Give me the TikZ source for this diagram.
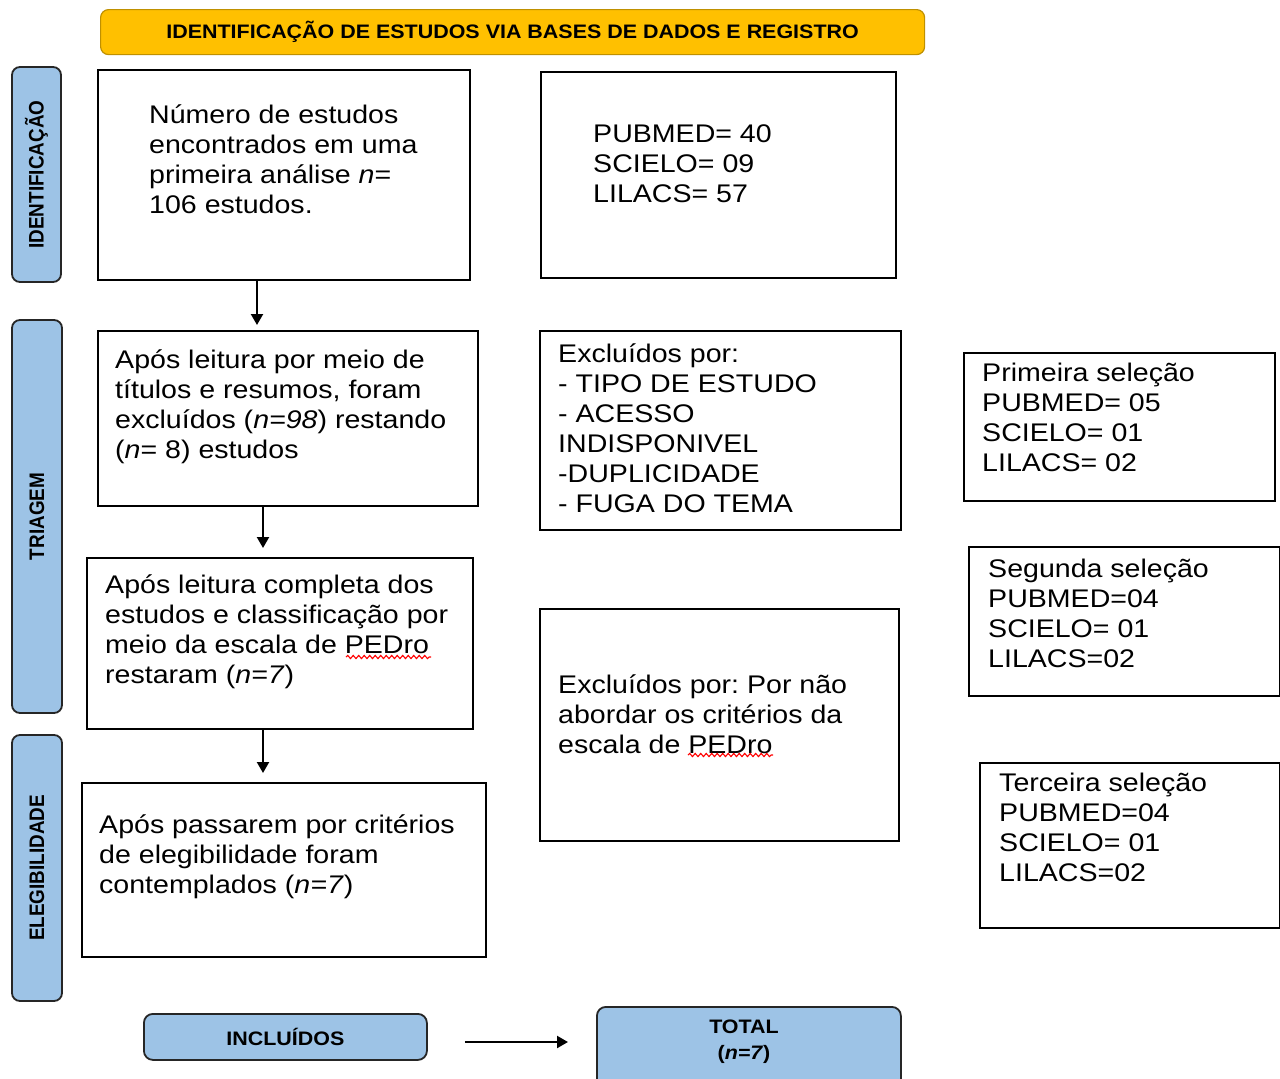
\documentclass[tikz,border=0pt]{standalone}
\usepackage{fontspec}
\setmainfont{Liberation Sans}
\newfontfamily\bodyfont{Liberation Sans}[FakeStretch=1.12]
\newfontfamily\headfont{Liberation Sans}[FakeStretch=1.1]
\newfontfamily\sidefont{Liberation Sans}[FakeStretch=0.9]
\usetikzlibrary{arrows.meta,decorations.pathmorphing}
\frenchspacing
\definecolor{bannerfill}{HTML}{FFC000}
\definecolor{bannerline}{HTML}{BF9000}
\definecolor{labelfill}{HTML}{9DC3E6}
\definecolor{labelline}{HTML}{262626}
\newcommand{\txtlines}[1]{\begin{tabular}[t]{@{}l@{}}#1\end{tabular}}
\newcommand{\ctrlines}[1]{\begin{tabular}[t]{@{}c@{}}#1\end{tabular}}
\tikzset{
  box/.style={draw=black, line width=2.2pt, fill=white, rectangle, inner sep=0pt, anchor=north west},
  banner/.style={draw=bannerline, line width=1.2pt, fill=bannerfill, rounded corners=8pt, inner sep=0pt, anchor=north west,
    font=\headfont\bfseries\fontsize{19.5}{23}\selectfont},
  sidelab/.style={draw=labelline, line width=1.8pt, fill=labelfill, rounded corners=8pt, inner sep=0pt, rotate=90,
    font=\sidefont\bfseries\fontsize{21}{25}\selectfont},
  endbox/.style={draw=labelline, line width=1.8pt, fill=labelfill, rounded corners=9pt, inner sep=0pt, anchor=north west,
    font=\headfont\bfseries\fontsize{19.5}{26}\selectfont},
  txt/.style={anchor=base west, inner sep=0pt, font=\bodyfont\fontsize{25.5}{30}\selectfont},
  headtxt/.style={anchor=base, inner sep=0pt, font=\headfont\bfseries\fontsize{19.5}{26}\selectfont},
  arr/.style={draw=black, line width=2.2pt, -{Triangle[length=11pt,width=12pt]}},
  wave/.style={draw=red, line width=1.1pt, decorate, decoration={snake, amplitude=1.6pt, segment length=5.5pt}}
}
\begin{document}
\begin{tikzpicture}[x=1pt, y=-1pt]
\useasboundingbox (0,0) rectangle (1280,1079);
\clip (0,0) rectangle (1280,1079);
\fill[white] (0,0) rectangle (1280,1079);

% banner
\node[banner, minimum width=824pt, minimum height=45pt] (ban) at (100,9) {IDENTIFICAÇÃO DE ESTUDOS VIA BASES DE DADOS E REGISTRO};

% side labels
\node[sidelab, minimum width=215pt, minimum height=49pt] (lab1) at (36.5,174.5) {IDENTIFICAÇÃO};
\node[sidelab, minimum width=393pt, minimum height=50pt] (lab2) at (37,516.5) {TRIAGEM};
\node[sidelab, minimum width=266pt, minimum height=50pt] (lab3) at (37,868) {ELEGIBILIDADE};

% boxes
\node[box, minimum width=372pt, minimum height=210pt] (b1) at (97,69) {};
\node[box, minimum width=355pt, minimum height=206pt] (b2) at (540,71) {};
\node[box, minimum width=380pt, minimum height=175pt] (b3) at (97,330) {};
\node[box, minimum width=361pt, minimum height=199pt] (b4) at (539,330) {};
\node[box, minimum width=311pt, minimum height=148pt] (s1) at (963,352) {};
\node[box, minimum width=386pt, minimum height=171pt] (b5) at (86,557) {};
\node[box, minimum width=311pt, minimum height=149pt] (s2) at (968,546) {};
\node[box, minimum width=359pt, minimum height=232pt] (b6) at (539,608) {};
\node[box, minimum width=404pt, minimum height=174pt] (b7) at (81,782) {};
\node[box, minimum width=300pt, minimum height=165pt] (s3) at (979,762) {};

% texts
\node[txt] (t1) at (149,123) {\txtlines{Número de estudos\\encontrados em uma\\primeira análise \textit{n}=\\106 estudos.}};
\node[txt] (t2) at (593,142) {\txtlines{PUBMED= 40\\SCIELO= 09\\LILACS= 57}};
\node[txt] (t3) at (115,368) {\txtlines{Após leitura por meio de\\títulos e resumos, foram\\excluídos (\textit{n=98}) restando\\(\textit{n}= 8) estudos}};
\node[txt] (t4) at (558,362) {\txtlines{Excluídos por:\\- TIPO DE ESTUDO\\- ACESSO\\INDISPONIVEL\\-DUPLICIDADE\\- FUGA DO TEMA}};
\node[txt] (ts1) at (982,381) {\txtlines{Primeira seleção\\PUBMED= 05\\SCIELO= 01\\LILACS= 02}};
\node[txt] (t5) at (105,593) {\txtlines{Após leitura completa dos\\estudos e classificação por\\meio da escala de PEDro\\restaram (\textit{n=7})}};
\node[txt] (ts2) at (988,577) {\txtlines{Segunda seleção\\PUBMED=04\\SCIELO= 01\\LILACS=02}};
\node[txt] (t6) at (558,693) {\txtlines{Excluídos por: Por não\\abordar os critérios da\\escala de PEDro}};
\node[txt] (t7) at (99,833) {\txtlines{Após passarem por critérios\\de elegibilidade foram\\contemplados (\textit{n=7})}};
\node[txt] (ts3) at (999,791) {\txtlines{Terceira seleção\\PUBMED=04\\SCIELO= 01\\LILACS=02}};

% spell-check underlines
\draw[wave] (346,657) -- (431,657);
\draw[wave] (688,755) -- (773,755);

% bottom boxes
\node[endbox, minimum width=283pt, minimum height=46pt] (inc) at (143,1013) {INCLUÍDOS};
\node[endbox, minimum width=304pt, minimum height=82pt] (tot) at (596,1006) {};
\node[headtxt] (tottxt) at (744,1033) {\ctrlines{TOTAL\\(\textit{n=7})}};

% connectors
\coordinate (ax1) at (257,0);
\coordinate (ax2) at (263,0);
\coordinate (ay) at (0,1042);
\draw[arr, shorten >=5pt] (b1.south -| ax1) -- (b3.north -| ax1);
\draw[arr, shorten >=9pt] (b3.south -| ax2) -- (b5.north -| ax2);
\draw[arr, shorten >=9pt] (b5.south -| ax2) -- (b7.north -| ax2);
\draw[arr, shorten <=37pt, shorten >=28pt] (inc.east |- ay) -- (tot.west |- ay);
\end{tikzpicture}
\end{document}
